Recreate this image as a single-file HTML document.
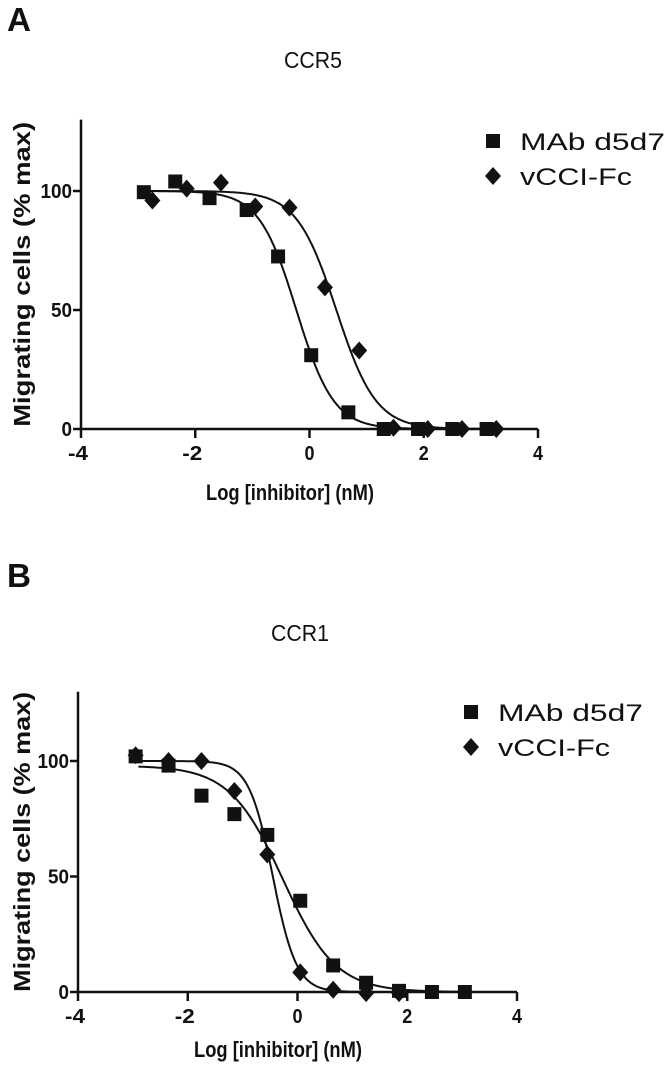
<!DOCTYPE html>
<html><head><meta charset="utf-8"><style>
body{margin:0;background:#fff;}
svg text{font-family:"Liberation Sans",Arial,sans-serif;fill:#111;}
</style></head><body>
<svg id="s" width="672" height="1063" viewBox="0 0 672 1063"></svg>
<script>
const xTicks=[-4,-2,0,2,4];
const yTicks=[0,50,100];
const aMabX=[-2.9,-2.35,-1.75,-1.1,-0.55,0.03,0.68,1.3,1.9,2.5,3.1];
const aMabY=[99.5,104,97,92,72.5,31,7,0,0,0,0];
const aVcciX=[-2.75,-2.15,-1.55,-0.95,-0.35,0.27,0.87,1.47,2.07,2.67,3.27];
const aVcciY=[96,101,103.5,93.5,93,59.5,33,0.5,0,0,0];
const bMabX=[-2.95,-2.35,-1.75,-1.15,-0.55,0.05,0.65,1.25,1.85,2.45,3.05];
const bMabY=[102,98,85,77,68,39.5,11.5,4,0.5,0,0];
const bVcciX=[-2.95,-2.35,-1.75,-1.15,-0.55,0.05,0.65,1.25,1.85];
const bVcciY=[102.5,100,100,87,59.5,8.5,1,-0.5,-0.5];
// fit params [top, logIC50, hill]
const aMabFit=[100,-0.23,1.33];
const aVcciFit=[100,0.47,1.25];
const bMabFit=[98,-0.27,0.9];
const bVcciFit=[100,-0.45,2.0];

const NS="http://www.w3.org/2000/svg";
const svg=document.getElementById('s');
function el(t,a,p){const e=document.createElementNS(NS,t);for(const k in a)e.setAttribute(k,a[k]);(p||svg).appendChild(e);return e;}
function txt(x,y,s,size,weight,anchor,p,len){const a={x:x,y:y,'font-size':size,'font-weight':weight,'text-anchor':anchor};
  if(len){a.textLength=len;a.lengthAdjust='spacingAndGlyphs';}
  const e=el('text',a,p);e.textContent=s;return e;}

function panel(cfg){
  const g=el('g',{});
  
  
  const sx=v=>cfg.x0+(v+4)*(cfg.x1-cfg.x0)/8;
  const sy=v=>cfg.y0-v*(cfg.y0-cfg.y100)/100;
  const l=txt(7,cfg.letterY,cfg.letter,33,'bold','start',g,24);
  
  const t=txt(cfg.titleX,cfg.titleY,cfg.title,23,'normal','middle',g,58);
  
  const ya=el('line',{x1:cfg.x0,y1:sy(130),x2:cfg.x0,y2:sy(0),stroke:'#111','stroke-width':2.5},g);
  
  const xa=el('line',{x1:cfg.x0,y1:sy(0),x2:sx(4),y2:sy(0),stroke:'#111','stroke-width':2.5},g);
  
  xTicks.forEach(v=>{
    el('line',{x1:sx(v),y1:sy(0),x2:sx(v),y2:sy(0)+9,stroke:'#111','stroke-width':2.5},g);
    const s=String(v);
    const tl=txt(sx(v)-(v<0?3:0),sy(0)+31,s,20,'bold','middle',g,s.length*10);
    
  });
  yTicks.forEach(v=>{
    el('line',{x1:cfg.x0-8,y1:sy(v),x2:cfg.x0,y2:sy(v),stroke:'#111','stroke-width':2.5},g);
    const s=String(v);
    const tl=txt(cfg.x0-9,sy(v)+7,s,20,'bold','end',g,s.length*10.5);
    
  });
  const xt=txt(cfg.xTitleX,cfg.xTitleY,'Log [inhibitor] (nM)',22,'bold','middle',g,168);
  
  const cy=(sy(0)+sy(130))/2;
  const yt=txt(0,0,'Migrating cells  (% max)',23,'bold','middle',g,cfg.yLen);
  yt.setAttribute('transform','translate(30,'+cy+') rotate(-90)');
  yt.setAttribute('xml:space','preserve');
  
  function curve(f,x0,x1,name){
    let d='';
    for(let x=x0;x<=x1+1e-9;x+=0.02){
      const y=f[0]/(1+Math.pow(10,(x-f[1])*f[2]));
      d+=(d?'L':'M')+sx(x).toFixed(1)+' '+sy(y).toFixed(1);
    }
    const p=el('path',{d:d,fill:'none',stroke:'#111','stroke-width':2},g);
    
  }
  curve(cfg.fits[0],cfg.startA,cfg.endA,'fit-curve-mab');
  curve(cfg.fits[1],cfg.startB,cfg.endB,'fit-curve-vcci');
  function sq(x,y,p){return el('rect',{x:x-7,y:y-7,width:14,height:14,fill:'#111'},p);}
  function dm(x,y,p){return el('path',{d:`M${x} ${y-9}L${x+8} ${y}L${x} ${y+9}L${x-8} ${y}Z`,fill:'#111'},p);}
  cfg.mabX.forEach((x,i)=>{const r=sq(sx(x),sy(cfg.mabY[i]),g);
    });
  cfg.vX.forEach((x,i)=>{const r=dm(sx(x),sy(cfg.vY[i]),g);
    });
  const lg=el('g',{},g);
  
  const l1=el('g',{},lg);
  sq(cfg.legX,cfg.legY,l1);txt(cfg.legX+27,cfg.legY+9,'MAb d5d7',24,'normal','start',l1,cfg.legW1);
  const l2=el('g',{},lg);
  dm(cfg.legX,cfg.legY+35,l2);txt(cfg.legX+27,cfg.legY+44,'vCCI-Fc',24,'normal','start',l2,cfg.legW2);
}
panel({name:'panel-a-ccr5',letter:'A',letterY:31,title:'CCR5',titleX:313,titleY:68,
  x0:81,x1:538,y0:429,y100:191,xTitleX:290,xTitleY:500,yLen:305,
  fits:[aMabFit,aVcciFit],startA:-2.9,endA:3.1,startB:-2.9,endB:3.3,
  mabX:aMabX,mabY:aMabY,vX:aVcciX,vY:aVcciY,legX:493,legY:141,legW1:145,legW2:112});
panel({name:'panel-b-ccr1',letter:'B',letterY:587,title:'CCR1',titleX:300,titleY:641,
  x0:78,x1:517,y0:992,y100:761,xTitleX:278,xTitleY:1057,yLen:300,
  fits:[bMabFit,bVcciFit],startA:-2.9,endA:3.1,startB:-2.9,endB:1.9,
  mabX:bMabX,mabY:bMabY,vX:bVcciX,vY:bVcciY,legX:471,legY:712,legW1:145,legW2:112});
</script>
</body></html>
